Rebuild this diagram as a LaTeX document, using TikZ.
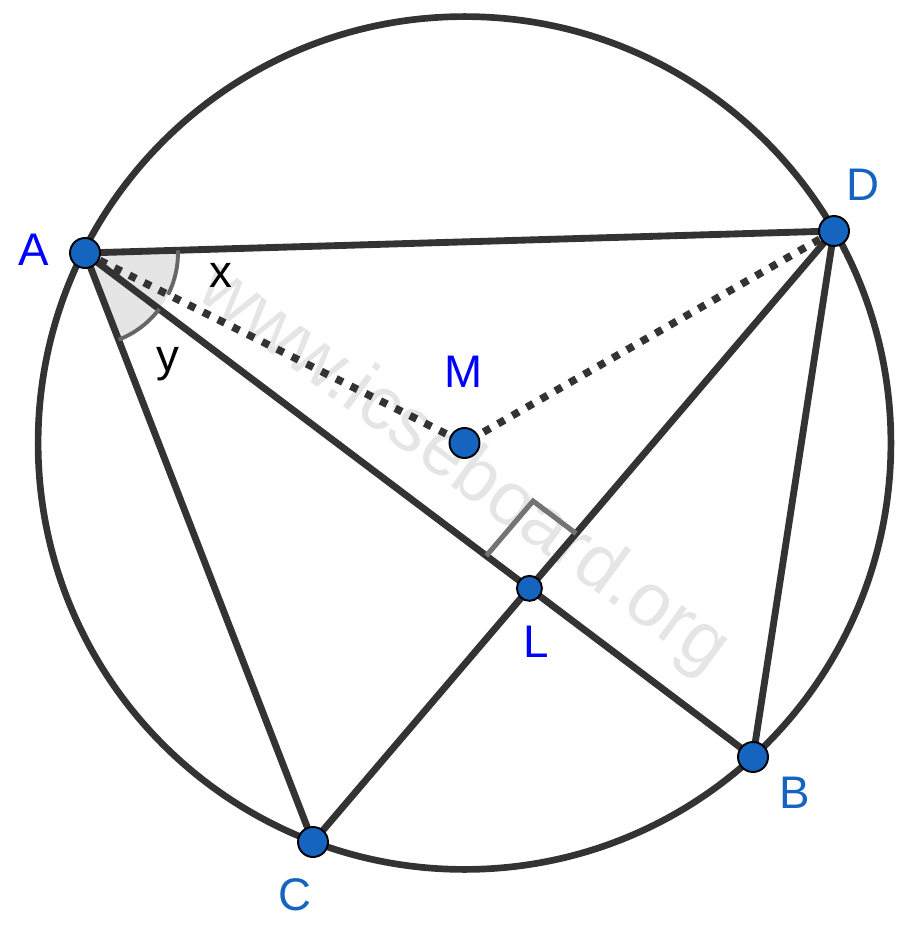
\documentclass[tikz,border=0pt]{standalone}
\usepackage{fontspec}
\setmainfont{Liberation Sans}
\usetikzlibrary{calc}
\definecolor{ptblue}{HTML}{1565C0}
\definecolor{linegray}{HTML}{333333}
\begin{document}
\begin{tikzpicture}[x=0.02cm,y=-0.02cm,
  seg/.style={draw=linegray,line width=3.9pt},
  dotseg/.style={draw=linegray,line width=4.3pt,dash pattern=on 4.3pt off 5.1pt},
  pt/.style={circle,fill=ptblue,draw=black,line width=1.1pt,inner sep=0pt,minimum size=0.6cm},
  smallpt/.style={circle,fill=ptblue,draw=black,line width=1.1pt,inner sep=0pt,minimum size=0.5cm},
  lbl/.style={inner sep=0pt,font=\fontsize{26}{30}\selectfont},
  anglemark/.style={draw=black!60,line width=2.2pt},
  rightmark/.style={draw=black!55,line width=2.9pt}]
\useasboundingbox (0,0) rectangle (915,929);
% watermark
\node[rotate=-36.3,text=black!10,font=\fontsize{43}{50}\selectfont] (wm) at (463,470) {www.icseboard.org};
% coordinates
\coordinate (Mc) at (464.5,443);
\coordinate (Ac) at (85,253);
\coordinate (Dc) at (834,231);
\coordinate (Bc) at (753,757);
\coordinate (Cc) at (313,842);
\coordinate (Lc) at (intersection of Ac--Bc and Cc--Dc);
% angle sector at A
\fill[black!10] (Ac) -- ++(1.68:1.86cm) arc[start angle=1.68,end angle=-68.7,radius=1.86cm] -- cycle;
% circle
\draw[draw=linegray,line width=3.8pt] (Mc) circle[radius=8.53cm];
% segments
\draw[seg] (Ac) -- (Dc);
\draw[seg] (Ac) -- (Bc);
\draw[seg] (Ac) -- (Cc);
\draw[seg] (Cc) -- (Dc);
\draw[seg] (Dc) -- (Bc);
\draw[dotseg] (Ac) -- (Mc);
\draw[dotseg] (Dc) -- (Mc);
% angle arcs
\draw[anglemark] (Ac) ++(1.68:1.86cm) arc[start angle=1.68,end angle=-26.6,radius=1.86cm];
\draw[anglemark] (Ac) ++(-37:1.86cm) arc[start angle=-37,end angle=-68.7,radius=1.86cm];
% right angle mark
\coordinate (r1) at ($(Lc)!1.08cm!(Ac)$);
\coordinate (r2) at ($(Lc)!1.44cm!(Dc)$);
\coordinate (r3) at ($(r1)+(r2)-(Lc)$);
\draw[rightmark] (r1) -- (r3) -- (r2);
% points
\node[pt] (A) at (Ac) {};
\node[pt] (D) at (Dc) {};
\node[pt] (B) at (Bc) {};
\node[pt] (C) at (Cc) {};
\node[pt] (M) at (Mc) {};
\node[smallpt] (L) at (Lc) {};
% labels
\node[lbl,text=blue] (lA) at (34,250) {A};
\node[lbl,text=ptblue] (lD) at (863,185) {D};
\node[lbl,text=ptblue] (lB) at (795,793) {B};
\node[lbl,text=ptblue] (lC) at (295,895) {C};
\node[lbl,text=blue] (lM) at (464,372) {M};
\node[lbl,text=blue] (lL) at (536,642) {L};
\node[lbl,text=black] (lx) at (221,275) {x};
\node[lbl,text=black] (ly) at (168,364) {y};
\end{tikzpicture}
\end{document}
